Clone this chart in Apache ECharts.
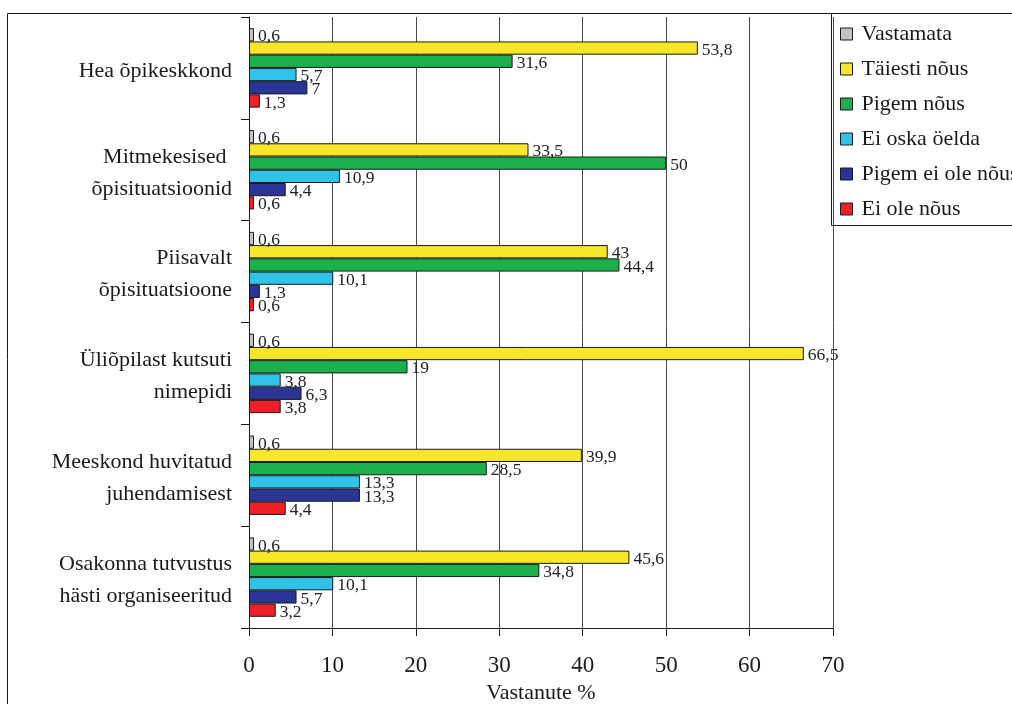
<!DOCTYPE html>
<html>
<head>
<meta charset="utf-8">
<script src="https://cdn.jsdelivr.net/npm/echarts@6/dist/echarts.min.js"></script>
<style>
  html, body { margin: 0; padding: 0; background: #fff; }
  #chart { width: 1012px; height: 704px; }
</style>
</head>
<body>
<div id="chart"></div>
<script>
// Survey statements (top to bottom)
const categories = [
  'Hea õpikeskkond',
  'Mitmekesised \nõpisituatsioonid',
  'Piisavalt\nõpisituatsioone',
  'Üliõpilast kutsuti\nnimepidi',
  'Meeskond huvitatud\njuhendamisest',
  'Osakonna tutvustus\nhästi organiseeritud'
];

// Answer options, in legend order
const seriesNames = ['Vastamata', 'Täiesti nõus', 'Pigem nõus', 'Ei oska öelda', 'Pigem ei ole nõus', 'Ei ole nõus'];
const seriesColors = ['#c3c3c3', '#f7e629', '#1bb04c', '#30c3e9', '#2b3595', '#ee1f27'];

// Share of respondents (%) per statement
const vastamata   = [0.6, 0.6, 0.6, 0.6, 0.6, 0.6];
const taiestiNous = [53.8, 33.5, 43, 66.5, 39.9, 45.6];
const pigemNous   = [31.6, 50, 44.4, 19, 28.5, 34.8];
const eiOskaOelda = [5.7, 10.9, 10.1, 3.8, 13.3, 10.1];
const pigemEiOle  = [7, 4.4, 1.3, 6.3, 13.3, 5.7];
const eiOleNous   = [1.3, 0.6, 0.6, 3.8, 4.4, 3.2];

const xTicks = [0, 10, 20, 30, 40, 50, 60, 70];

const seriesData = [vastamata, taiestiNous, pigemNous, eiOskaOelda, pigemEiOle, eiOleNous];

const serif = '"Liberation Serif", "DejaVu Serif", serif';

const chart = echarts.init(document.getElementById('chart'));

const series = seriesNames.map((name, i) => ({
  name: name,
  type: 'bar',
  data: seriesData[i],
  barGap: '0%',
  barCategoryGap: '22%',
  itemStyle: { color: seriesColors[i], borderColor: '#1a1a1a', borderWidth: 1 },
  label: {
    show: true,
    position: 'right',
    distance: 4,
    offset: [0, 2],
    fontFamily: serif,
    fontSize: 17.5,
    color: '#222',
    formatter: p => String(p.value).replace('.', ',')
  },
  emphasis: { disabled: true },
  animation: false
}));

chart.setOption({
  animation: false,
  grid: { left: 249, right: 179, top: 17, bottom: 76, containLabel: false, outerBoundsMode: 'none' },
  legend: {
    data: seriesNames,
    orient: 'vertical',
    left: 840,
    top: 23,
    padding: 0,
    itemWidth: 12,
    itemHeight: 12,
    itemGap: 13,
    icon: 'rect',
    selectedMode: false,
    textStyle: { fontFamily: serif, fontSize: 22, lineHeight: 20, color: '#1a1a1a', padding: [0, 0, 0, 4] },
    itemStyle: { borderColor: '#1a1a1a', borderWidth: 1 }
  },
  xAxis: {
    type: 'value',
    min: xTicks[0],
    max: xTicks[xTicks.length - 1],
    interval: 10,
    name: 'Vastanute %',
    nameLocation: 'middle',
    nameGap: 49,
    nameTextStyle: { fontFamily: serif, fontSize: 22, color: '#1a1a1a' },
    axisLine: { show: true, lineStyle: { color: '#1a1a1a', width: 1 } },
    axisTick: { show: true, length: 8, lineStyle: { color: '#1a1a1a' } },
    axisLabel: { fontFamily: serif, fontSize: 23, color: '#1a1a1a', margin: 26 },
    splitLine: { show: true, lineStyle: { color: '#4a4a4a', width: 1 } }
  },
  yAxis: {
    type: 'category',
    data: categories,
    inverse: true,
    axisLine: { show: true, lineStyle: { color: '#1a1a1a', width: 1 } },
    axisTick: { show: true, length: 8, lineStyle: { color: '#1a1a1a' } },
    axisLabel: {
      margin: 17,
      align: 'right',
      formatter: v => '{c|' + v + '}',
      rich: {
        c: {
          fontFamily: serif, fontSize: 22, color: '#1a1a1a',
          lineHeight: 32, padding: [6, 0, 0, 0], verticalAlign: 'middle', align: 'right'
        }
      }
    }
  },
  graphic: [
    {
      type: 'rect',
      shape: { x: 7.5, y: 13.5, width: 1100, height: 800 },
      style: { fill: null, stroke: '#1a1a1a', lineWidth: 1 },
      silent: true,
      z: 0
    },
    {
      type: 'rect',
      shape: { x: 831.5, y: 13.5, width: 300, height: 212 },
      style: { fill: '#fff', stroke: '#1a1a1a', lineWidth: 1 },
      silent: true,
      z: 0
    }
  ],
  series: series
});
</script>
</body>
</html>
